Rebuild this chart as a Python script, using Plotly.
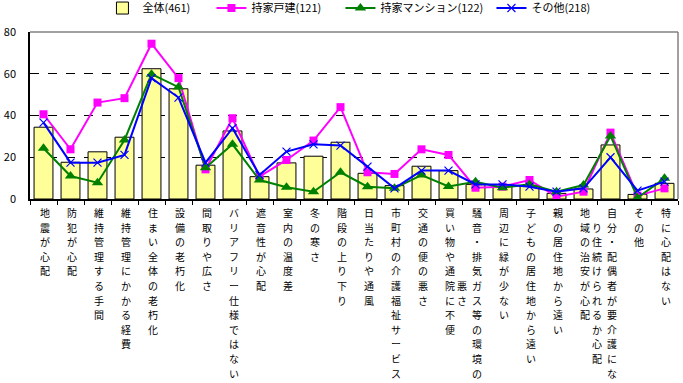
import plotly.graph_objects as go

CATEGORIES = [
    "地震が心配", "防犯が心配", "維持管理する手間", "維持管理にかかる経費",
    "住まい全体の老朽化", "設備の老朽化", "間取りや広さ", "バリアフリー仕様ではない",
    "遮音性が心配", "室内の温度差", "冬の寒さ", "階段の上り下り",
    "日当たりや通風", "市町村の介護福祉サービス", "交通の便の悪さ", "買い物や通院に不便",
    "騒音・排気ガス等の環境の悪さ", "周辺に緑が少ない", "子どもの居住地から遠い", "親の居住地から遠い",
    "地域の治安が心配", "自分・配偶者が要介護になり住続けられるか心配", "その他", "特に心配はない",
]

ALL_461 = [34.4, 17.6, 22.6, 29.6, 62.4, 52.8, 16.2, 32.6, 10.7, 17.3, 20.5, 27.2,
           12.3, 6.4, 15.7, 13.6, 7.0, 6.1, 6.4, 2.7, 4.8, 25.9, 2.2, 7.5]
DETACHED_121 = [40.6, 23.8, 46.2, 48.3, 74.4, 57.9, 14.2, 38.7, 10.7, 18.7, 28.0, 44.0,
                12.8, 12.0, 23.8, 21.1, 5.4, 5.9, 9.1, 1.1, 3.5, 31.8, 1.6, 5.1]
MANSION_122 = [24.3, 11.0, 7.8, 28.3, 59.8, 53.6, 15.0, 26.2, 9.1, 5.6, 3.5, 12.8,
               5.9, 5.1, 11.5, 6.0, 8.3, 5.4, 7.0, 3.5, 6.7, 30.2, 0.6, 9.9]
OTHER_218 = [36.6, 17.4, 17.4, 21.1, 57.9, 48.6, 17.4, 33.9, 11.5, 22.7, 26.2, 25.6,
             15.5, 5.1, 13.6, 13.6, 7.0, 7.0, 5.9, 3.5, 5.1, 20.0, 4.0, 8.3]

SERIES_NAMES = ["全体(461)", "持家戸建(121)", "持家マンション(122)", "その他(218)"]
Y_TICKS = [0, 20, 40, 60, 80]

FONT = "Noto Sans CJK JP"
MAX_ROWS = 12
ROW_STEP = 14.6
LABEL_SIZE = 10


def label_annotations(cat, text):
    """Vertical (tategaki-like) label: one character per row, overflow wraps
    into a second column to the left, centred vertically."""
    cols = [(text[:MAX_ROWS], 0, 1)]
    if len(text) > MAX_ROWS:
        rest = text[MAX_ROWS:]
        cols.append((rest, (MAX_ROWS - len(rest)) // 2, -14))
    anns = []
    for chars, row0, xs in cols:
        for k, ch in enumerate(chars):
            anns.append(dict(
                x=cat, xref="x", y=0, yref="paper", yanchor="top", xanchor="center",
                text=ch, showarrow=False, xshift=xs,
                yshift=-(4 + (row0 + k) * ROW_STEP),
                font=dict(family=FONT, size=LABEL_SIZE, color="black"),
            ))
    return anns


annotations = []
for c in CATEGORIES:
    annotations += label_annotations(c, c)

fig = go.Figure()
fig.add_trace(go.Bar(
    x=CATEGORIES, y=ALL_461, name=SERIES_NAMES[0], width=0.7, legendwidth=64,
    marker=dict(color="#FFFF99", line=dict(color="black", width=1)),
))
fig.add_trace(go.Scatter(
    x=CATEGORIES, y=DETACHED_121, name=SERIES_NAMES[1], mode="lines+markers",
    legendwidth=84,
    line=dict(color="#FF00FF", width=2),
    marker=dict(symbol="square", size=8, color="#FF00FF"),
))
fig.add_trace(go.Scatter(
    x=CATEGORIES, y=MANSION_122, name=SERIES_NAMES[2], mode="lines+markers",
    legendwidth=106,
    line=dict(color="#008000", width=2),
    marker=dict(symbol="triangle-up", size=10, color="#008000"),
))
fig.add_trace(go.Scatter(
    x=CATEGORIES, y=OTHER_218, name=SERIES_NAMES[3], mode="lines+markers",
    legendwidth=80,
    line=dict(color="#0000FF", width=2),
    marker=dict(symbol="x-thin", size=8, color="#0000FF", line=dict(color="#0000FF", width=1.2)),
))

fig.update_layout(
    width=683, height=383,
    margin=dict(l=30, r=5, t=32, b=184),
    plot_bgcolor="white", paper_bgcolor="white",
    font=dict(family=FONT, size=11, color="black"),
    showlegend=True,
    legend=dict(
        orientation="h", xref="container", yref="container",
        x=0.150, xanchor="left", y=0.979, yanchor="middle",
        font=dict(size=11), bgcolor="rgba(0,0,0,0)", itemwidth=30,
        tracegroupgap=0,
    ),
    bargap=0.3,
    xaxis=dict(
        tickmode="array", tickvals=CATEGORIES, showticklabels=False,
        ticks="outside", tickson="boundaries", ticklen=4, automargin=False,
        tickcolor="black", showline=True, linecolor="black", linewidth=1.5,
        showgrid=False, range=[-0.5, len(CATEGORIES) - 0.5],
    ),
    yaxis=dict(
        range=[0, 80], tickvals=Y_TICKS, showline=True, linecolor="black", linewidth=1.5,
        showgrid=True, gridcolor="black", griddash="dash", gridwidth=1, automargin=False,
        zeroline=False, ticks="", ticklabelstandoff=10, tickfont=dict(size=11, family=FONT),
    ),
    annotations=annotations,
    shapes=[
        dict(type="line", xref="paper", yref="paper", x0=0, x1=1, y0=1, y1=1,
             line=dict(color="#808080", width=1.5)),
        dict(type="line", xref="paper", yref="paper", x0=1, x1=1, y0=0, y1=1,
             line=dict(color="#808080", width=1.5)),
    ],
)

fig.write_html("out.html", config={"displayModeBar": False},
               post_script="document.body.style.margin='0';")
